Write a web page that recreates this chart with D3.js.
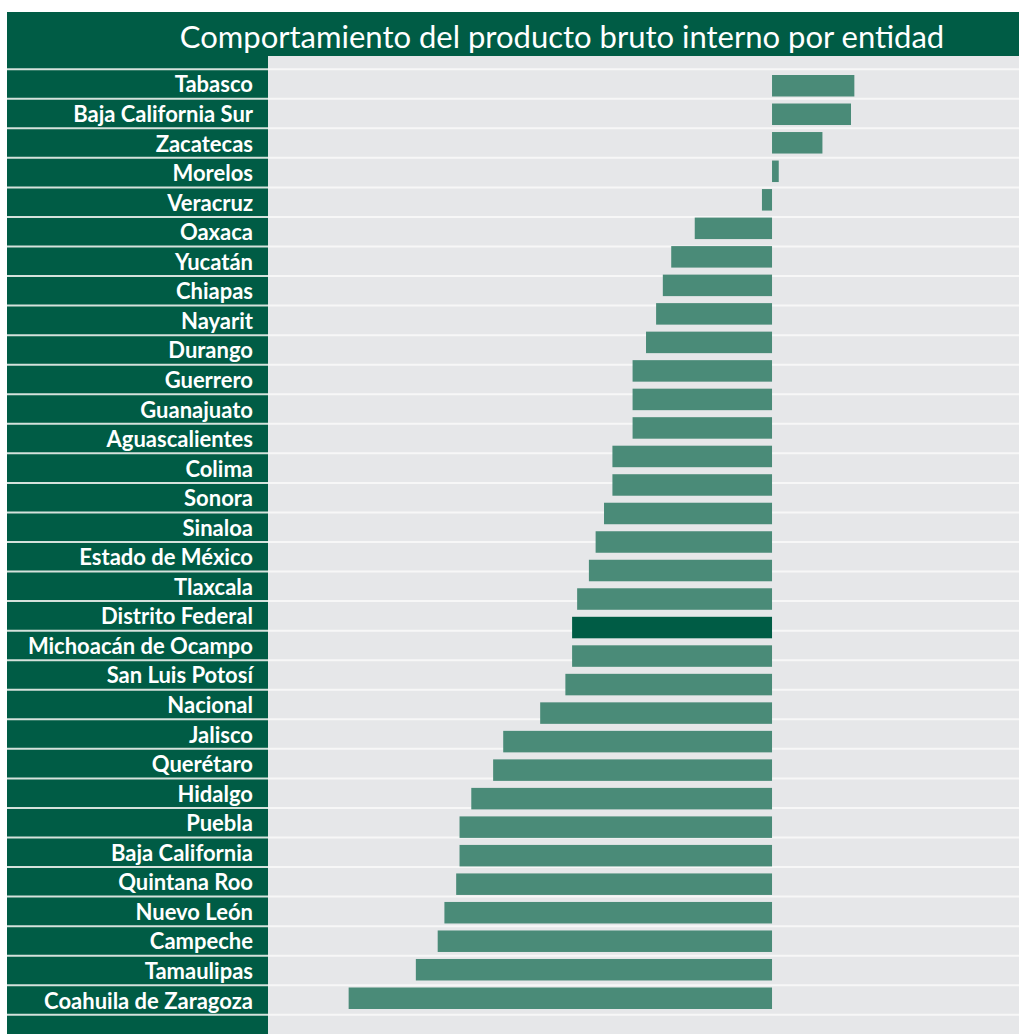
<!DOCTYPE html>
<html lang="es">

<head>
    <meta charset="UTF-8">
    <title>Comportamiento del producto bruto interno por entidad</title>
    <script src="https://cdnjs.cloudflare.com/ajax/libs/d3/7.8.5/d3.min.js"></script>
    <style>
        body { margin: 0; background: #fff; }
    </style>
</head>

<body>
    <svg id="main" width="1019" height="1034"></svg>
    <script>
        const titulo = 'Comportamiento del producto bruto interno por entidad';

        // etiquetas de la columna izquierda (tal como aparecen)
        const entidades = ['Tabasco', 'Baja California Sur', 'Zacatecas', 'Morelos', 'Veracruz', 'Oaxaca',
            'Yucatán', 'Chiapas', 'Nayarit', 'Durango', 'Guerrero', 'Guanajuato', 'Aguascalientes',
            'Colima', 'Sonora', 'Sinaloa', 'Estado de México', 'Tlaxcala', 'Distrito Federal',
            'Michoacán de Ocampo', 'San Luis Potosí', 'Nacional', 'Jalisco', 'Querétaro', 'Hidalgo',
            'Puebla', 'Baja California', 'Quintana Roo', 'Nuevo León', 'Campeche', 'Tamaulipas',
            'Coahuila de Zaragoza'];

        // las barras (33, la grafica original tiene una mas que las etiquetas)
        const variacion = [2.45, 2.35, 1.5, 0.2, -0.3, -2.3, -3.0, -3.25, -3.45, -3.75, -4.15, -4.15,
            -4.15, -4.75, -4.75, -5.0, -5.25, -5.45, -5.8, -5.95, -5.95, -6.15, -6.9, -8.0, -8.3,
            -8.95, -9.3, -9.3, -9.4, -9.75, -9.95, -10.6, -12.6];

        const destacado = 19;

        const verdeOscuro = '#005c45';
        const verdeBarra = '#4a8b78';
        const gris = '#e6e7e9';

        const svg = d3.select('#main');

        const x = d3.scaleLinear().domain([-15, 7.35]).range([268, 1019]);
        const filas = d3.scaleBand().domain(entidades).range([69.2, 1014.8]);
        const yBarra = d3.scaleBand().domain(d3.range(variacion.length))
            .range([75, 1009]).paddingInner(0.246).paddingOuter(0);

        // fondos
        svg.append('rect')
            .attr('x', 268).attr('y', 56).attr('width', 751).attr('height', 978)
            .attr('fill', gris);
        svg.append('rect')
            .attr('x', 7).attr('y', 56).attr('width', 261).attr('height', 978)
            .attr('fill', verdeOscuro);

        // titulo
        svg.append('rect')
            .attr('x', 7).attr('y', 12).attr('width', 1012).attr('height', 44)
            .attr('fill', verdeOscuro);
        svg.append('text')
            .attr('x', 562).attr('y', 36)
            .attr('text-anchor', 'middle')
            .attr('dominant-baseline', 'central')
            .attr('fill', '#fff')
            .attr('font-family', 'Lato, sans-serif')
            .attr('font-size', 31)
            .text(titulo);

        // separadores de filas
        const lineas = entidades.map(d => filas(d)).concat([filas.range()[1]]);
        svg.append('g').selectAll('line.plot').data(lineas).join('line')
            .attr('x1', 268).attr('x2', 1019)
            .attr('y1', d => d).attr('y2', d => d)
            .attr('stroke', '#f7f7f7').attr('stroke-width', 2);
        svg.append('g').selectAll('line.panel').data(lineas).join('line')
            .attr('x1', 7).attr('x2', 268)
            .attr('y1', d => d).attr('y2', d => d)
            .attr('stroke', '#d5e2dc').attr('stroke-width', 2);

        // etiquetas
        svg.append('g').selectAll('text').data(entidades).join('text')
            .attr('x', 253)
            .attr('y', d => filas(d) + filas.bandwidth() / 2)
            .attr('text-anchor', 'end')
            .attr('dominant-baseline', 'central')
            .attr('fill', '#fff')
            .attr('font-family', 'Lato, sans-serif')
            .attr('font-weight', 'bold')
            .attr('font-size', 22)
            .text(d => d);

        // barras
        svg.append('g').selectAll('rect').data(variacion).join('rect')
            .attr('x', d => x(Math.min(0, d)))
            .attr('y', (d, i) => yBarra(i))
            .attr('width', d => Math.abs(x(d) - x(0)))
            .attr('height', yBarra.bandwidth())
            .attr('fill', (d, i) => i === destacado ? verdeOscuro : verdeBarra);
    </script>
</body>

</html>
